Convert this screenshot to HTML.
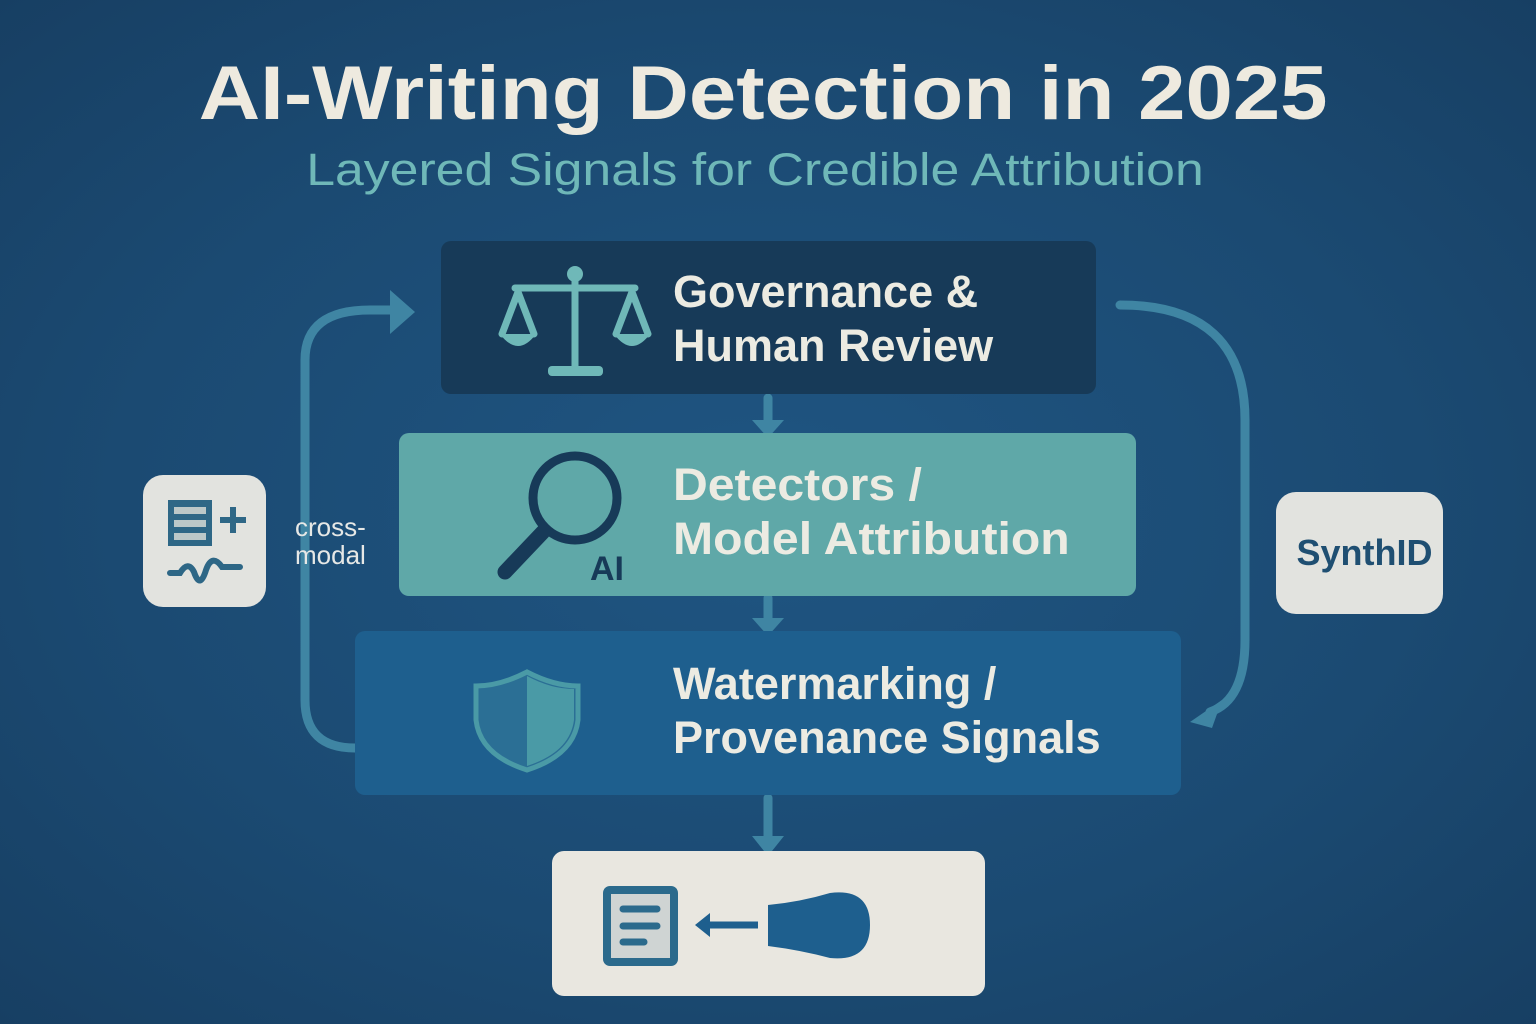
<!DOCTYPE html>
<html><head><meta charset="utf-8"><style>
body{margin:0;width:1536px;height:1024px;overflow:hidden;background:#1b4a72;font-family:"Liberation Sans",sans-serif}
.abs{position:absolute}
.t{color:#ecebe2;font-weight:bold;font-size:45px;line-height:54px}
</style></head><body>
<div class="abs" style="left:0;top:0;width:1536px;height:1024px;background:radial-gradient(ellipse at 50% 50%,#1f5582 0%,#1b4a72 60%,#173f63 100%)"></div>
<div class="abs" style="left:0;top:50px;width:1526px;text-align:center;color:#eeeadf;font-size:76px;font-weight:bold;transform:scaleX(1.12);transform-origin:762px 0">AI-Writing Detection in 2025</div>
<div class="abs" style="left:0;top:144px;width:1510px;text-align:center;color:#6fb8b8;font-size:45px;transform:scaleX(1.15);transform-origin:755px 0">Layered Signals for Credible Attribution</div>

<svg class="abs" style="left:0;top:0" width="1536" height="1024">
<g fill="none" stroke="#3f85a3" stroke-width="9" stroke-linecap="round">
<path d="M355 748 Q305 748 305 700 L305 360 Q305 310 370 310 L395 310"/>
<path d="M1120 305 Q1245 305 1245 420 L1245 640 Q1245 700 1210 712"/>
<line x1="768" y1="398" x2="768" y2="425"/>
<line x1="768" y1="598" x2="768" y2="623"/>
<line x1="768" y1="798" x2="768" y2="840"/>
</g>
<g fill="#3f85a3">
<polygon points="390,290 415,312 390,334"/>
<polygon points="1190,722 1222,700 1212,728"/>
<polygon points="752,420 784,420 768,438"/>
<polygon points="752,618 784,618 768,636"/>
<polygon points="752,836 784,836 768,856"/>
</g>
</svg>

<div class="abs" style="left:441px;top:241px;width:655px;height:153px;background:#173a58;border-radius:10px"></div>
<div class="abs" style="left:399px;top:433px;width:737px;height:163px;background:#5fa8a8;border-radius:10px"></div>
<div class="abs" style="left:355px;top:631px;width:826px;height:164px;background:#1e5f8e;border-radius:10px"></div>
<div class="abs" style="left:552px;top:851px;width:433px;height:145px;background:#e9e7e0;border-radius:12px"></div>
<div class="abs" style="left:143px;top:475px;width:123px;height:132px;background:#e2e3df;border-radius:20px"></div>
<div class="abs" style="left:1276px;top:492px;width:167px;height:122px;background:#e2e3df;border-radius:20px"></div>

<div class="abs t" style="left:673px;top:265px">Governance &amp;<br>Human Review</div>
<div class="abs t" style="left:673px;top:458px;transform:scaleX(1.07);transform-origin:0 0">Detectors /<br>Model Attribution</div>
<div class="abs t" style="left:673px;top:657px">Watermarking /<br>Provenance Signals</div>
<div class="abs" style="left:295px;top:513px;color:#e6e8e6;font-size:26px;line-height:28px">cross-<br>modal</div>
<div class="abs" style="left:1281px;top:532px;width:167px;text-align:center;color:#1f4f72;font-size:36px;font-weight:bold">SynthID</div>

<svg class="abs" style="left:0;top:0" width="1536" height="1024">
<g stroke="#6fb8b8" stroke-width="7" fill="none" stroke-linecap="round">
<line x1="575" y1="272" x2="575" y2="368"/>
<line x1="515" y1="288" x2="635" y2="288"/>
<path d="M518 292 L502 334 M518 292 L534 334 M632 292 L616 334 M632 292 L648 334"/>
</g>
<g fill="#6fb8b8">
<circle cx="575" cy="274" r="8"/>
<path d="M500 334 H536 Q518 358 500 334Z"/>
<path d="M614 334 H650 Q632 358 614 334Z"/>
<rect x="548" y="366" width="55" height="10" rx="4"/>
</g>
<circle cx="575" cy="498" r="42" fill="none" stroke="#173a58" stroke-width="9"/>
<line x1="543" y1="532" x2="505" y2="572" stroke="#173a58" stroke-width="15" stroke-linecap="round"/>
<text x="590" y="580" fill="#173a58" font-family="Liberation Sans" font-weight="bold" font-size="34">AI</text>
<path d="M527 672 Q500 686 476 686 L476 720 Q480 755 527 770 Q574 755 578 720 L578 686 Q554 686 527 672Z" fill="#2b6f95" stroke="#4a9aa6" stroke-width="5"/>
<path d="M527 676 Q551 689 574 689 L574 720 Q570 752 527 766Z" fill="#4a9aa6"/>
<rect x="168" y="500" width="44" height="46" fill="#2e6786"/>
<g fill="#bcc8c8"><rect x="174" y="507" width="32" height="7"/><rect x="174" y="520" width="32" height="7"/><rect x="174" y="533" width="32" height="7"/></g>
<path d="M220 520 H246 M233 507 V533" stroke="#2e6786" stroke-width="6"/>
<path d="M170 573 H180 Q188 560 194 572 Q200 590 206 570 Q212 553 222 567 H240" stroke="#2e6786" stroke-width="6" fill="none" stroke-linecap="round"/>
<rect x="607" y="890" width="67" height="72" rx="3" fill="#cfd4d3" stroke="#2b6a8c" stroke-width="8"/>
<g stroke="#2b6a8c" stroke-width="7" stroke-linecap="round"><line x1="623" y1="909" x2="657" y2="909"/><line x1="623" y1="926" x2="657" y2="926"/><line x1="623" y1="942" x2="644" y2="942"/></g>
<line x1="705" y1="925" x2="758" y2="925" stroke="#1e5f8e" stroke-width="7"/>
<polygon points="695,925 710,913 710,937" fill="#1e5f8e"/>
<path d="M768 905 Q800 902 830 893 Q870 888 870 925 Q870 962 830 958 Q800 950 768 946Z" fill="#1e5f8e"/>
</svg>
</body></html>
